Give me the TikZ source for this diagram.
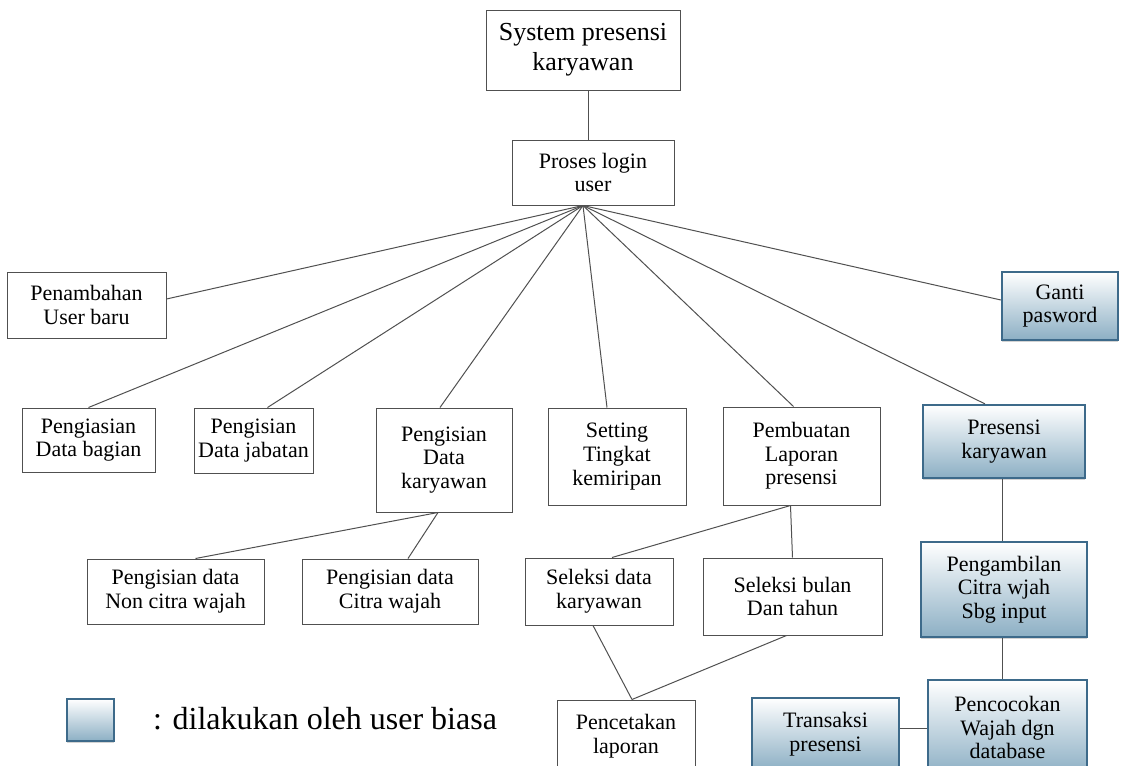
\documentclass[tikz,border=0pt]{standalone}
\usepackage{fontspec}
\setmainfont{Liberation Serif}
\usetikzlibrary{shadows}
\definecolor{edge}{HTML}{505050}
\definecolor{userline}{HTML}{3D6A8A}
\definecolor{userfill}{HTML}{8CAFC4}

\begin{document}
\begin{tikzpicture}[
      x=0.5pt, y=-0.5pt,
      every node/.style={font=\fontsize{11}{11.8}\selectfont},
      menu/.style={rectangle, draw=edge, line width=0.5pt, inner sep=0pt,
                   align=center},
      userbox/.style={rectangle, draw=userline, line width=1.1pt, inner sep=0pt,
                      align=center, top color=white, bottom color=userfill,
                      drop shadow={shadow xshift=0pt, shadow yshift=-1.2pt,
                                   opacity=0.35}},
      link/.style={draw=edge, line width=0.5pt},
    ]
    \useasboundingbox (0,0) rectangle (1121,766);

    % root and login
    \node[menu, minimum width=97pt, minimum height=40pt,
          font=\fontsize{13}{15}\selectfont] (sistem) at (583,50)
          {System presensi\\karyawan};
    \node[menu, minimum width=81pt, minimum height=32.5pt] (login) at (593,172.5)
          {Proses login\\user};
    \coordinate (hub) at ([xshift=-5pt]login.south);

    % first level menus
    \node[menu, minimum width=79.5pt, minimum height=33pt] (tambah) at (86.5,305)
          {Penambahan\\User baru};
    \node[menu, minimum width=66.5pt, minimum height=32pt] (bagian) at (88.5,440)
          {Pengiasian\\Data bagian};
    \node[menu, minimum width=59.5pt, minimum height=32.5pt] (jabatan) at (253.5,440.5)
          {Pengisian\\Data jabatan};
    \node[menu, minimum width=68pt, minimum height=52pt] (datakar) at (444,460)
          {Pengisian\\Data\\karyawan};
    \node[menu, minimum width=69pt, minimum height=48.5pt] (setting) at (617,456.5)
          {Setting\\Tingkat\\kemiripan};
    \node[menu, minimum width=78.5pt, minimum height=49pt] (laporan) at (801.5,456)
          {Pembuatan\\Laporan\\presensi};
    \node[userbox, minimum width=81pt, minimum height=36.5pt] (presensi) at (1004,441.5)
          {Presensi\\karyawan};
    \node[userbox, minimum width=58pt, minimum height=34pt] (ganti) at (1060,306)
          {Ganti\\pasword};

    % second level
    \node[menu, minimum width=88.5pt, minimum height=32.5pt] (noncitra) at (175.5,591.5)
          {Pengisian data\\Non citra wajah};
    \node[menu, minimum width=88pt, minimum height=32.5pt] (citra) at (390,591.5)
          {Pengisian data\\Citra wajah};
    \node[menu, minimum width=74pt, minimum height=33.5pt] (seldata) at (599,591.5)
          {Seleksi data\\karyawan};
    \node[menu, minimum width=89.5pt, minimum height=38.5pt] (selbulan) at (792.5,596.5)
          {Seleksi bulan\\Dan tahun};
    \node[menu, minimum width=69pt, minimum height=36pt] (cetak) at (626,736)
          {Pencetakan\\laporan};

    % user chain
    \node[userbox, minimum width=83pt, minimum height=47.5pt] (ambil) at (1004,589.5)
          {Pengambilan\\Citra wjah\\Sbg input};
    \node[userbox, minimum width=79.5pt, minimum height=47.5pt] (cocok) at (1007.5,727.5)
          {Pencocokan\\Wajah dgn\\database};
    \node[userbox, minimum width=73.5pt, minimum height=36pt] (transaksi) at (825.5,734)
          {Transaksi\\presensi};

    % legend
    \node[userbox, minimum width=23.5pt, minimum height=21pt] (legbox) at (90.5,720) {};
    \node[anchor=west, font=\fontsize{16}{18}\selectfont] (legtext) at (146,719)
          {: dilakukan oleh user biasa};

    \draw[link] ([xshift=2.5pt]sistem.south) -- ([xshift=-2.5pt]login.north);
    \draw[link] (hub) -- ([yshift=3pt]tambah.east);
    \draw[link] (hub) -- (bagian.north);
    \draw[link] (hub) -- ([xshift=7pt]jabatan.north);
    \draw[link] (hub) -- ([xshift=-2pt]datakar.north);
    \draw[link] (hub) -- ([xshift=-5pt]setting.north);
    \draw[link] (hub) -- ([xshift=-4pt]laporan.north);
    \draw[link] (hub) -- ([xshift=-9.5pt]presensi.north);
    \draw[link] (hub) -- ([yshift=3pt]ganti.west);

    \draw[link] ([xshift=-3pt]datakar.south) -- ([xshift=10pt]noncitra.north);
    \draw[link] ([xshift=-3pt]datakar.south) -- ([xshift=9pt]citra.north);
    \draw[link] ([xshift=-5.5pt]laporan.south) -- ([xshift=6.5pt]seldata.north);
    \draw[link] ([xshift=-5.5pt]laporan.south) -- (selbulan.north);
    \draw[link] ([xshift=-3pt]seldata.south) -- ([xshift=3pt]cetak.north);
    \draw[link] ([xshift=-3pt]selbulan.south) -- ([xshift=3pt]cetak.north);

    \draw[link] ([xshift=-1pt]presensi.south) -- ([xshift=-1pt]ambil.north);
    \draw[link] ([xshift=-1pt]ambil.south) -- ([xshift=-1pt]ambil.south |- cocok.north);
    \draw[link] ([yshift=3pt]transaksi.east) -- ([yshift=3pt]transaksi.east -| cocok.west);
  \end{tikzpicture}
\end{document}
